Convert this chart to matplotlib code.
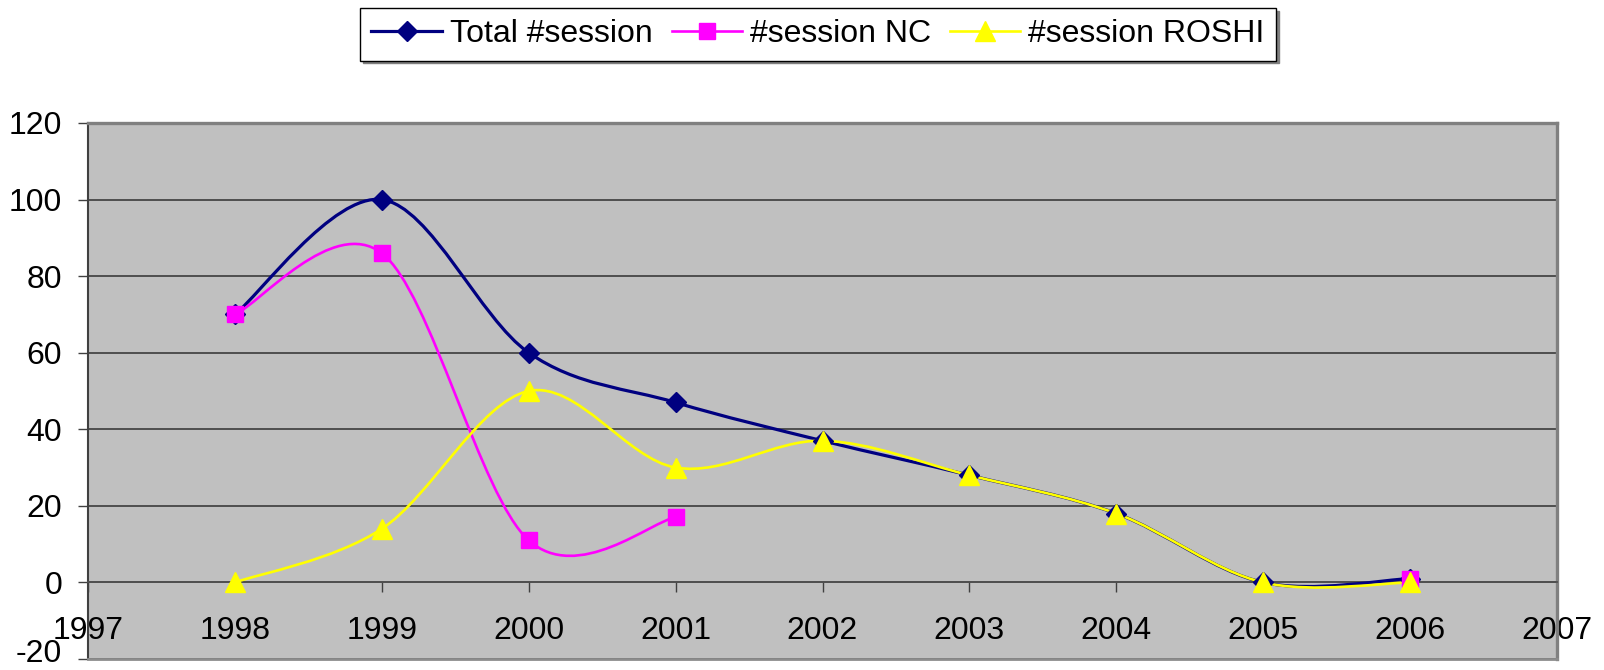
import numpy as np
import matplotlib
matplotlib.use('Agg')
import matplotlib.pyplot as plt
from matplotlib.path import Path
from matplotlib.patches import PathPatch
from matplotlib.lines import Line2D
from matplotlib.transforms import ScaledTranslation

# ---- data ----
years = [1998, 1999, 2000, 2001, 2002, 2003, 2004, 2005, 2006]
total = [70, 100, 60, 47, 37, 28, 18, 0, 1]
nc = [70, 86, 11, 17, None, None, None, None, 1]
roshi = [0, 14, 50, 30, 37, 28, 18, 0, 0]
series_labels = ['Total #session', '#session NC', '#session ROSHI']
xticks = list(range(1997, 2008))
yticks = list(range(-20, 121, 20))

plt.rcParams['font.family'] = ['Liberation Sans', 'DejaVu Sans']


def smooth_path(xs, ys):
    """Excel-like smoothed line: cubic Bezier segments (Catmull-Rom control points)."""
    runs, cur = [], []
    for x, y in zip(xs, ys):
        if y is None:
            if cur:
                runs.append(cur)
                cur = []
        else:
            cur.append((x, y))
    if cur:
        runs.append(cur)
    verts, codes = [], []
    for run in runs:
        P = np.array(run, float)
        n = len(P)
        verts.append(P[0]); codes.append(Path.MOVETO)
        if n == 1:
            verts.append(P[0]); codes.append(Path.LINETO)
            continue
        for i in range(n - 1):
            pm = P[i - 1] if i > 0 else P[i]
            pp = P[i + 2] if i + 2 < n else P[i + 1]
            c1 = P[i] + (P[i + 1] - pm) / 6.0
            c2 = P[i + 1] - (pp - P[i]) / 6.0
            verts += [c1, c2, P[i + 1]]
            codes += [Path.CURVE4] * 3
    return Path(verts, codes)


fig = plt.figure(figsize=(16.04, 6.70), dpi=100)
ax = fig.add_axes([88 / 1604, 1 - 659 / 670, (1557 - 88) / 1604, (659 - 123) / 670])
ax.set_facecolor('#C0C0C0')
ax.set_xlim(1997, 2007)
ax.set_ylim(-20, 120)

styles = [
    dict(color='#000080', marker='D', ms=10, lw=2.3),
    dict(color='#FF00FF', marker='s', ms=12, lw=1.9),
    dict(color='#FFFF00', marker='^', ms=14, lw=1.9),
]
handles = []
for vals, st, lab in zip([total, nc, roshi], styles, series_labels):
    patch = PathPatch(smooth_path(years, vals), fill=False, edgecolor=st['color'],
                      lw=st['lw'], zorder=3, joinstyle='round', capstyle='round')
    ax.add_patch(patch)
    yv = [np.nan if v is None else v for v in vals]
    ax.plot(years, yv, ls='none', marker=st['marker'], ms=st['ms'],
            color=st['color'], mec=st['color'], zorder=4, clip_on=False)
    handles.append(Line2D([], [], color=st['color'], lw=st['lw'], marker=st['marker'],
                          ms=st['ms'], mec=st['color'], label=lab))

# grid
ax.set_yticks(yticks)
ax.set_xticks(xticks)
ax.yaxis.grid(True, color='#303030', lw=1.1, zorder=1)
ax.set_axisbelow(True)

# spines
ax.spines['bottom'].set_position(('data', 0))
ax.spines['bottom'].set_color('#505050')
ax.spines['bottom'].set_linewidth(1.3)
ax.spines['left'].set_color('#404040')
ax.spines['left'].set_linewidth(1.5)
for s in ['top', 'right']:
    ax.spines[s].set_color('#808080')
    ax.spines[s].set_linewidth(2.4)
ax.plot([0, 1], [0, 0], transform=ax.transAxes, color='#8C8C8C', lw=2.0,
        clip_on=False, zorder=5)

ax.tick_params(axis='y', direction='out', length=7.2, width=1.0, color='#404040',
               pad=11.5, labelsize=23)
ax.tick_params(axis='x', direction='out', length=7.2, width=1.0, color='#404040',
               pad=17, labelsize=23)
ax.set_yticklabels([str(v) for v in yticks])
ax.set_xticklabels([str(v) for v in xticks])

# keep the lowest y label inside the canvas
fig.canvas.draw()
low = ax.get_yticklabels()[0]
low.set_transform(low.get_transform() + ScaledTranslation(0, 9 / 100, fig.dpi_scale_trans))

leg = fig.legend(handles=handles, loc='center', bbox_to_anchor=(818 / 1604, 1 - 34.5 / 670),
                 ncol=3, fontsize=23, frameon=True, fancybox=False,
                 handlelength=2.2, handletextpad=0.25, columnspacing=0.6,
                 borderpad=0.35, borderaxespad=0,
                 shadow={'color': '#808080', 'alpha': 1.0})
leg.get_frame().set_edgecolor('black')
leg.get_frame().set_linewidth(1.0)

fig.savefig('out.png', dpi=100)
